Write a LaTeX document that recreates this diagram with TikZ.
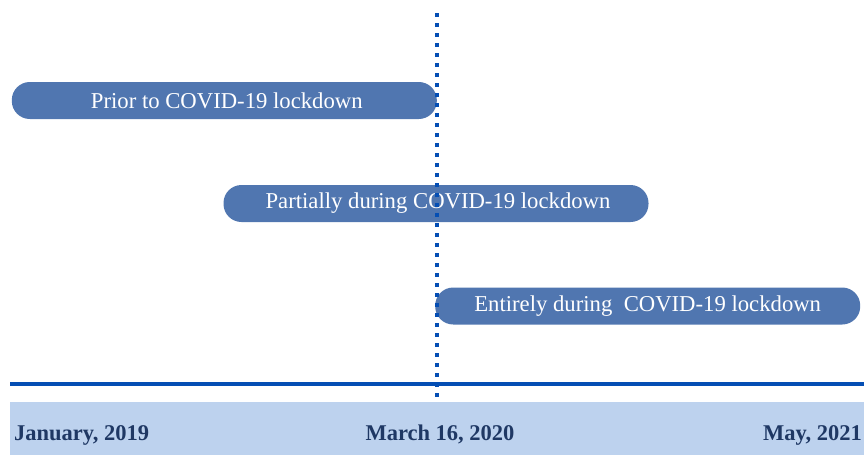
\documentclass[tikz,border=0pt]{standalone}
\usepackage{fontspec}
\setmainfont{Liberation Serif}
\usetikzlibrary{positioning}
\definecolor{phasefill}{RGB}{80,118,176}
\definecolor{lineblue}{RGB}{4,78,180}
\definecolor{bandblue}{RGB}{189,210,238}
\definecolor{datetext}{RGB}{31,56,100}
\tikzset{every picture/.style={line cap=butt, line join=round}}
\tikzset{phase/.style={rectangle, fill=phasefill, rounded corners=18pt,
  minimum width=425pt, minimum height=37pt, inner sep=0pt, text=white,
  font=\fontsize{22.7}{26}\selectfont}}
\tikzset{band/.style={rectangle, fill=bandblue, minimum width=854pt,
  minimum height=53pt, inner sep=0pt}}
\tikzset{datelbl/.style={text=datetext, inner sep=0pt,
  font=\fontsize{22.5}{26}\selectfont\bfseries}}
\tikzset{cutline/.style={draw=lineblue, line width=4pt, dash pattern=on 4pt off 6pt}}
\tikzset{axis/.style={draw=lineblue, line width=3.5pt}}

\begin{document}
\begin{tikzpicture}[x=1pt, y=-1pt]
  \useasboundingbox (0,0) rectangle (866,455);

  % phases
  \node[phase, anchor=east] (prior)    at (437,100.5) {\hspace*{5pt}Prior to COVID-19 lockdown};
  \node[phase]              (partial)  at (436,203.5) {\hspace*{4pt}Partially during COVID-19 lockdown};
  \node[phase, anchor=west] (entirely) at (435,306)   {Entirely during\ \ COVID-19 lockdown};

  % time axis
  \coordinate (axisL) at (10,384);
  \coordinate (axisR) at (864,384);
  \draw[axis] (axisL) -- (axisR);
  \node[band] (timeline) at (437,428.5) {};
  \node[datelbl, anchor=base west] (jan)   at (14,440)  {January, 2019};
  \node[datelbl, anchor=base]      (march) at (440,440) {March 16, 2020};
  \node[datelbl, anchor=base east] (may)   at (862,440) {May, 2021};

  % lockdown start
  \coordinate (cutT) at (437,13);
  \coordinate (cutB) at (437,400);
  \draw[cutline] (cutT) -- (cutB);
\end{tikzpicture}
\end{document}
